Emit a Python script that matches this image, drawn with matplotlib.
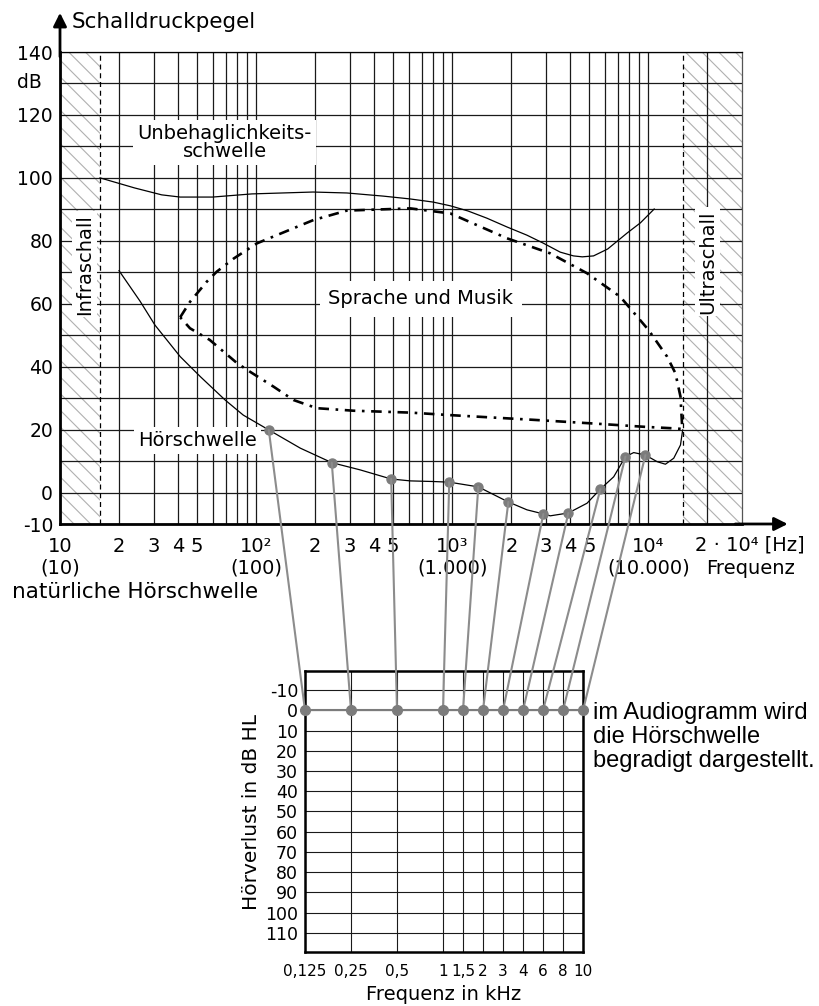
import matplotlib
matplotlib.use('Agg')
import numpy as np
import matplotlib.pyplot as plt
from matplotlib.patches import ConnectionPatch
from matplotlib.ticker import NullFormatter, NullLocator

plt.rcParams['axes.unicode_minus'] = False
plt.rcParams['hatch.linewidth'] = 0.8

# Unbehaglichkeitsschwelle
ub_freq = [16, 24, 33, 41, 60, 95, 195, 290, 445, 610, 800, 980, 1200, 1500,
           1900, 2400, 2900, 3550, 4150, 4600, 5250, 6200, 7800, 9100, 10700]
ub_db = [100, 96.8, 94.6, 93.9, 93.9, 94.9, 95.5, 95.2, 94.2, 93.3, 92.3, 91.1,
         89.5, 87.2, 84.4, 81.8, 79.3, 76.4, 75.2, 74.9, 75.2, 77.4, 82.5, 85.7, 90.1]

# Sprache und Musik (closed loop)
sm_freq = [41, 46, 56, 63, 77, 101, 196, 290, 611, 977, 1900, 3160, 4860, 7190,
           10000, 12450, 13730, 14570, 14860, 14910, 13460, 9460, 5690, 2600, 977,
           611, 314, 204, 155, 123, 93, 80, 58, 46, 41]
sm_db = [55.7, 60.6, 67.0, 70.2, 74.4, 79.2, 86.6, 89.6, 90.3, 88.7, 80.8, 76.0,
         69.7, 62.2, 51.7, 43.2, 37.9, 30.5, 20.9, 20.2, 20.4, 20.9, 21.8, 23.1,
         24.6, 25.4, 26.0, 26.8, 29.4, 33.6, 38.4, 41.1, 48.5, 52.2, 55.7]

# Hoerschwelle
hs_freq = [20, 25.6, 30.5, 41, 52, 69.5, 86, 116, 168, 243, 339, 488, 611, 800,
           965, 1357, 1931, 2404, 2913, 3162, 3907, 4864, 5690, 6653, 7632, 8414,
           9654, 11080, 12210, 13460, 14570, 14950]
hs_db = [70.5, 60.8, 53.2, 43.2, 36.8, 29.4, 24.6, 19.9, 14.1, 9.5, 7.2, 4.3, 3.7,
         3.5, 3.3, 1.8, -3.0, -5.5, -6.8, -7.4, -6.5, -3.4, 1.1, 5.0, 11.4, 12.7,
         11.9, 9.8, 9.0, 10.9, 15.1, 19.9]

# measuring points on the threshold and in the audiogram
dot_freq = [116, 243, 488, 965, 1357, 1931, 2913, 3907, 5690, 7632, 9654]
dot_db = [19.9, 9.5, 4.3, 3.3, 1.8, -3.0, -6.8, -6.5, 1.1, 11.4, 11.9]
aud_freq = [0.125, 0.25, 0.5, 1, 1.5, 2, 3, 4, 6, 8, 10]
aud_labels = ['0,125', '0,25', '0,5', '1', '1,5', '2', '3', '4', '6', '8', '10']
aud_hl = [0, 0, 0, 0, 0, 0, 0, 0, 0, 0, 0]

infra_limit = 16
ultra_limit = 15000

x_major = [10, 20, 30, 40, 50, 100, 200, 300, 400, 500,
           1000, 2000, 3000, 4000, 5000, 10000]
x_labels = ['10\n(10)', '2', '3', '4', '5', '10²\n(100)', '2', '3', '4', '5',
            '10³\n(1.000)', '2', '3', '4', '5', '10⁴\n(10.000)']
x_grid = [k * 10 ** e for e in (1, 2, 3) for k in range(1, 10)] + [10000, 20000]
y_major = [-10, 0, 20, 40, 60, 80, 100, 120, 140]
y_grid = list(range(-10, 141, 10))

# audiogram frequency axis: wide octave steps up to 1 kHz, even steps above
aud_steps = np.cumsum([0, 2.3, 2.3, 2.3, 1, 1, 1, 1, 1, 1, 1])
aud_log = np.log(aud_freq)


def aud_forward(f):
    return np.interp(np.log(np.clip(f, 1e-6, None)), aud_log, aud_steps)


def aud_inverse(p):
    return np.exp(np.interp(p, aud_steps, aud_log))


W, H = 819, 1006


def px_box(l, t, r, b):
    return [l / W, 1 - b / H, (r - l) / W, (b - t) / H]


fig = plt.figure(figsize=(W / 100, H / 100), dpi=100)

# ---- top chart ----
ax = fig.add_axes(px_box(60, 52, 742, 524))
ax.set_xscale('log')
ax.set_xlim(10, 30000)
ax.set_ylim(-10, 140)
ax.set_xticks(x_major, x_labels)
ax.set_xticks(x_grid, minor=True)
ax.xaxis.set_minor_formatter(NullFormatter())
ax.set_yticks(y_major)
ax.set_yticks(y_grid, minor=True)
ax.set_axisbelow(True)
ax.grid(True, which='both', color='#1a1a1a', lw=0.9)
ax.tick_params(which='both', length=0)
ax.tick_params(axis='x', labelsize=14, pad=9)
ax.tick_params(axis='y', labelsize=13.5, pad=5)
ax.spines['left'].set_linewidth(2)
ax.spines['bottom'].set_linewidth(2)
ax.spines['top'].set_linewidth(0.9)
ax.spines['right'].set_linewidth(0.9)
ax.spines['right'].set_color('#555555')

ax.axvspan(10, infra_limit, facecolor='none', edgecolor='#b0b0b0',
           hatch='\\\\', lw=0, zorder=0.2)
ax.axvspan(ultra_limit, 30000, facecolor='none', edgecolor='#b0b0b0',
           hatch='\\\\', lw=0, zorder=0.2)
ax.axvline(infra_limit, color='black', ls=(0, (4, 3)), lw=0.9, zorder=1)
ax.axvline(ultra_limit, color='black', ls=(0, (4, 3)), lw=0.9, zorder=1)

ax.plot(ub_freq, ub_db, color='black', lw=0.9, zorder=4)
ax.plot(hs_freq, hs_db, color='black', lw=0.9, zorder=4)
ax.plot(sm_freq, sm_db, color='black', lw=1.9, ls=(0, (4, 2.5, 1, 2.5)), zorder=4)
ax.plot(dot_freq, dot_db, 'o', color='#7c7c7c', ms=6.5, zorder=5)

box = dict(facecolor='white', edgecolor='none', pad=3)
ax.text(69, 111.2, 'Unbehaglichkeits-\nschwelle', ha='center', va='center',
        fontsize=14, linespacing=0.95, bbox=box, zorder=3)
ax.text(690, 61.6, 'Sprache und Musik', ha='center', va='center',
        fontsize=14, bbox=dict(facecolor='white', edgecolor='none', pad=6), zorder=3)
ax.text(50.5, 16.5, 'Hörschwelle', ha='center', va='center',
        fontsize=14, bbox=box, zorder=3)
ax.text(13.3, 72.6, 'Infraschall', rotation=90, ha='center', va='center',
        fontsize=14, bbox=dict(facecolor='white', edgecolor='none', pad=2), zorder=3)
ax.text(20000, 73.3, 'Ultraschall', rotation=90, ha='center', va='center',
        fontsize=14, bbox=dict(facecolor='white', edgecolor='none', pad=2), zorder=3)
ax.text(-0.045, 0.936, 'dB', transform=ax.transAxes, ha='center', va='center',
        fontsize=13.5)

arrow = dict(arrowstyle='-|>', lw=2, color='black', mutation_scale=20,
             shrinkA=0, shrinkB=0)
ax.annotate('', xy=(0, 1.083), xytext=(0, 0.99), xycoords='axes fraction',
            arrowprops=arrow, annotation_clip=False)
ax.annotate('', xy=(1.067, 0), xytext=(0.99, 0), xycoords='axes fraction',
            arrowprops=arrow, annotation_clip=False)
ax.annotate('2 · 10⁴ [Hz]', xy=(20000, 0), xycoords=('data', 'axes fraction'),
            xytext=(-9, -15), textcoords='offset points', ha='left', va='center',
            fontsize=14, annotation_clip=False)

fig.text(72 / W, 1 - 22 / H, 'Schalldruckpegel', fontsize=15.5, va='center')
fig.text(12 / W, 1 - 592 / H, 'natürliche Hörschwelle', fontsize=15.5, va='center')
fig.text(706 / W, 1 - 569 / H, 'Frequenz', fontsize=14, va='center')

# ---- audiogram ----
ax2 = fig.add_axes(px_box(305, 671, 583, 952))
ax2.set_xscale('function', functions=(aud_forward, aud_inverse))
ax2.set_xlim(0.125, 10)
ax2.set_ylim(119.5, -19.5)
ax2.set_xticks(aud_freq, aud_labels)
ax2.xaxis.set_minor_locator(NullLocator())
ax2.set_yticks(list(range(-10, 111, 10)))
ax2.grid(True, color='#1a1a1a', lw=0.8)
ax2.tick_params(length=0)
ax2.tick_params(axis='x', pad=9, labelsize=11)
ax2.tick_params(axis='y', pad=5, labelsize=12.5)
for s in ax2.spines.values():
    s.set_linewidth(1.8)
ax2.plot(aud_freq, aud_hl, color='#7c7c7c', lw=1.5, marker='o', ms=7,
         zorder=5, clip_on=False)
ax2.set_ylabel('Hörverlust in dB HL', fontsize=14.5, labelpad=3)
ax2.set_xlabel('Frequenz in kHz', fontsize=14, labelpad=4)

for fa, db, fb, hl in zip(dot_freq, dot_db, aud_freq, aud_hl):
    con = ConnectionPatch(xyA=(fa, db), coordsA=ax.transData,
                          xyB=(fb, hl), coordsB=ax2.transData,
                          color='#8c8c8c', lw=1.5, zorder=3)
    ax2.add_artist(con)
    con.set_clip_on(False)

fig.text(593 / W, 1 - 702 / H,
         'im Audiogramm wird\ndie Hörschwelle\nbegradigt dargestellt.',
         family='Liberation Sans', fontsize=17, va='top', linespacing=1.12)

fig.savefig('out.png', dpi=100)
